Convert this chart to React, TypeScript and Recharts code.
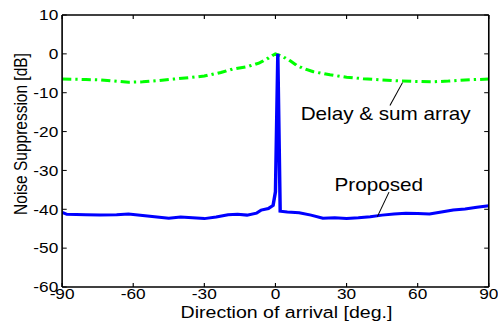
import React from 'react';
import { LineChart, Line, XAxis, YAxis, ReferenceLine, ReferenceDot } from 'recharts';

const xTicks = [-90, -60, -30, 0, 30, 60, 90];
const yTicks = [-60, -50, -40, -30, -20, -10, 0, 10];

const delayAngles = [-90, -80, -74, -68, -62, -56, -50, -43, -36, -30, -23, -18, -12, -7, -3, 0, 3, 6, 9, 12, 16, 23, 30, 37, 45, 53, 60, 66, 73, 80, 90];
const delayValues = [-6.5, -6.6, -6.7, -7.0, -7.3, -7.2, -6.9, -6.5, -6.1, -5.7, -4.8, -3.9, -3.3, -2.4, -1.1, 0, -0.7, -1.7, -3.0, -3.8, -4.6, -5.4, -6.0, -6.4, -6.7, -7.0, -7.1, -7.2, -7.0, -6.7, -6.5];

const proposedAngles = [-90, -88, -80, -74, -67, -62, -56, -50, -45, -40, -35, -30, -25, -20, -16, -12, -8, -6, -3, -1, 0, 1, 2, 5, 10, 15, 20, 25, 30, 35, 40, 45, 50, 55, 60, 65, 70, 75, 80, 85, 90];
const proposedValues = [-40.8, -41.3, -41.4, -41.5, -41.4, -41.2, -41.6, -42.0, -42.3, -42.0, -42.2, -42.4, -42.0, -41.4, -41.3, -41.5, -41.0, -40.2, -39.8, -39.0, -35.5, 0, -40.5, -40.7, -40.9, -41.5, -42.3, -42.2, -42.4, -42.2, -41.9, -41.5, -41.2, -41.0, -41.1, -41.2, -40.7, -40.2, -39.9, -39.5, -39.1];

const delayData = delayAngles.map((a, i) => ({ angle: a, value: delayValues[i] }));
const proposedData = proposedAngles.map((a, i) => ({ angle: a, value: proposedValues[i] }));

const FONT = '"Liberation Sans", Arial, Helvetica, sans-serif';

const XLabel = (props: any) => {
  const vb = props.viewBox || { x: 54, y: 287, width: 371, height: 34 };
  const cx = vb.x + vb.width / 2 + 9.6;
  const y = vb.y + vb.height - 3;
  return (
    <text x={cx} y={y} textAnchor="middle" fontSize={17} fill="#000" fontFamily={FONT}>
      Direction of arrival [deg.]
    </text>
  );
};

const YLabel = (props: any) => {
  const vb = props.viewBox || { x: 0, y: 15, width: 54, height: 272 };
  const cx = vb.x + 23.2;
  const cy = vb.y + vb.height / 2 - 17;
  return (
    <text x={cx} y={cy} transform={`rotate(-90 ${cx} ${cy})`} textAnchor="middle" fontSize={15.5} fill="#000" fontFamily={FONT}>
      Noise Suppression [dB]
    </text>
  );
};

const noTick = () => null;

export default function App() {
  const tickStyle = { fontSize: 15, fill: '#000', fontFamily: FONT };
  return (
    <div
      style={{
        position: 'absolute',
        left: 0,
        top: 0,
        width: 433,
        height: 321,
        background: '#fff',
        transform: 'scaleX(1.1501)',
        transformOrigin: '0 0',
        fontFamily: FONT,
      }}
    >
      <LineChart width={433} height={321} margin={{ top: 14, right: 7, bottom: 0, left: 0 }}>
        <XAxis
          dataKey="angle"
          type="number"
          domain={[-90, 90]}
          ticks={xTicks}
          allowDataOverflow
          height={34}
          tickSize={-4}
          tickMargin={5.5}
          tick={tickStyle}
          axisLine={{ stroke: '#000', strokeWidth: 1.4 }}
          tickLine={{ stroke: '#000', strokeWidth: 1 }}
          label={XLabel}
        />
        <XAxis
          xAxisId="top"
          orientation="top"
          dataKey="angle"
          type="number"
          domain={[-90, 90]}
          ticks={xTicks}
          allowDataOverflow
          height={1}
          tickSize={-4}
          tick={noTick}
          axisLine={{ stroke: '#000', strokeWidth: 1.4 }}
          tickLine={{ stroke: '#000', strokeWidth: 1 }}
        />
        <YAxis
          type="number"
          domain={[-60, 10]}
          ticks={yTicks}
          allowDataOverflow
          width={54}
          tickSize={-4}
          tickMargin={7.3}
          tick={tickStyle}
          axisLine={{ stroke: '#000', strokeWidth: 1.4 }}
          tickLine={{ stroke: '#000', strokeWidth: 1 }}
          label={YLabel}
        />
        <YAxis
          yAxisId="right"
          orientation="right"
          type="number"
          domain={[-60, 10]}
          ticks={yTicks}
          allowDataOverflow
          width={1}
          tickSize={-4}
          tick={noTick}
          axisLine={{ stroke: '#000', strokeWidth: 1.4 }}
          tickLine={{ stroke: '#000', strokeWidth: 1 }}
        />
        <Line
          data={delayData}
          dataKey="value"
          type="linear"
          stroke="#00ff00"
          strokeWidth={3}
          strokeDasharray="8 3.5 2 3.5"
          dot={false}
          activeDot={false}
          isAnimationActive={false}
        />
        <Line
          data={proposedData}
          dataKey="value"
          type="linear"
          stroke="#0000ff"
          strokeWidth={3}
          dot={false}
          activeDot={false}
          isAnimationActive={false}
        />
        <ReferenceLine
          segment={[{ x: 48.3, y: -13.3 }, { x: 53.6, y: -7.4 }]}
          stroke="#000"
          strokeWidth={0.9}
          ifOverflow="visible"
        />
        <ReferenceLine
          segment={[{ x: 47.9, y: -35.6 }, { x: 43.0, y: -41.9 }]}
          stroke="#000"
          strokeWidth={0.9}
          ifOverflow="visible"
        />
        <ReferenceDot
          x={46.5}
          y={-15.4}
          r={0}
          fill="none"
          stroke="none"
          ifOverflow="visible"
          label={{ value: 'Delay & sum array', position: 'center', fontSize: 18, fill: '#000', fontFamily: FONT }}
        />
        <ReferenceDot
          x={43.6}
          y={-33.7}
          r={0}
          fill="none"
          stroke="none"
          ifOverflow="visible"
          label={{ value: 'Proposed', position: 'center', fontSize: 18, fill: '#000', fontFamily: FONT }}
        />
      </LineChart>
    </div>
  );
}
